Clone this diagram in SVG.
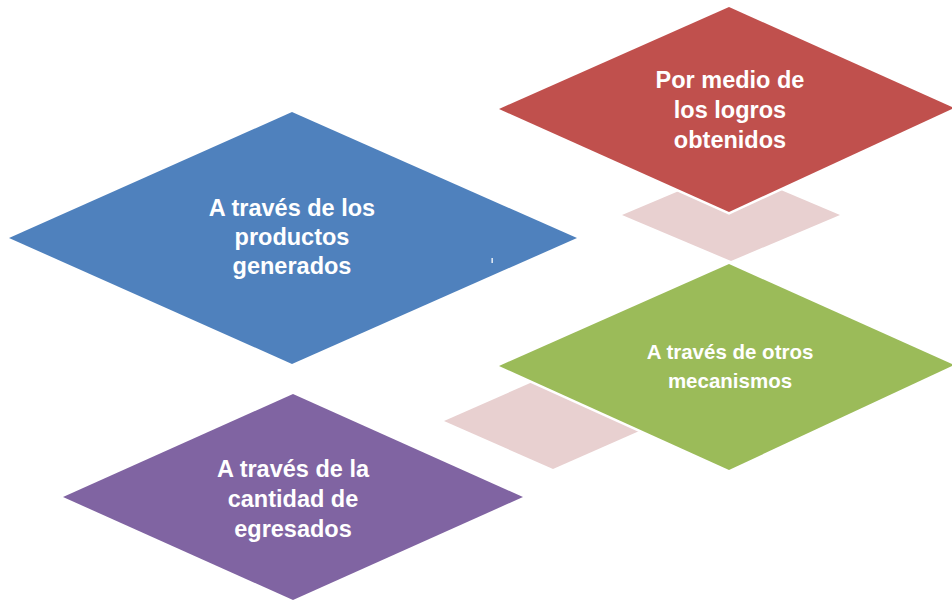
<svg xmlns="http://www.w3.org/2000/svg" width="952" height="601" viewBox="0 0 952 601">
<style>
.d{stroke:#FFFFFF;stroke-width:5;stroke-linejoin:miter;paint-order:stroke}
.p{fill:#E8D0D0}
.t{font-family:"Liberation Sans",Arial,sans-serif;font-weight:bold;fill:#FFFFFF;text-anchor:middle}
</style>
<rect width="952" height="601" fill="#FFFFFF"/>
<g id="connectors">
<polygon class="p" points="622,215 731,169 840,215 731,261"/>
<polygon class="p" points="444,421 553,373 662,421 553,469"/>
</g>
<g id="node-blue">
<polygon class="d" fill="#4F81BD" points="9,238 292,112 577,238 292,364"/>
<rect x="491.5" y="258" width="1.3" height="5" fill="#FFFFFF"/>
<text class="t" font-size="23.5"><tspan x="292" y="216">A través de los</tspan><tspan x="292" y="245">productos</tspan><tspan x="292" y="274">generados</tspan></text>
</g>
<g id="node-red">
<polygon class="d" fill="#C0504D" points="499,109 729,7 954,108 729,212"/>
<text class="t" font-size="23.5"><tspan x="730" y="88">Por medio de</tspan><tspan x="730" y="118">los logros</tspan><tspan x="730" y="148">obtenidos</tspan></text>
</g>
<g id="node-green">
<polygon class="d" fill="#9BBB59" points="499,366 729,264 954,365 729,470"/>
<text class="t" font-size="20.5"><tspan x="730" y="359">A través de otros</tspan><tspan x="730" y="388">mecanismos</tspan></text>
</g>
<g id="node-purple">
<polygon class="d" fill="#8064A2" points="63,497 293,394 523,497 293,600"/>
<text class="t" font-size="23.5"><tspan x="293" y="477">A través de la</tspan><tspan x="293" y="507">cantidad de</tspan><tspan x="293" y="537">egresados</tspan></text>
</g>
</svg>
